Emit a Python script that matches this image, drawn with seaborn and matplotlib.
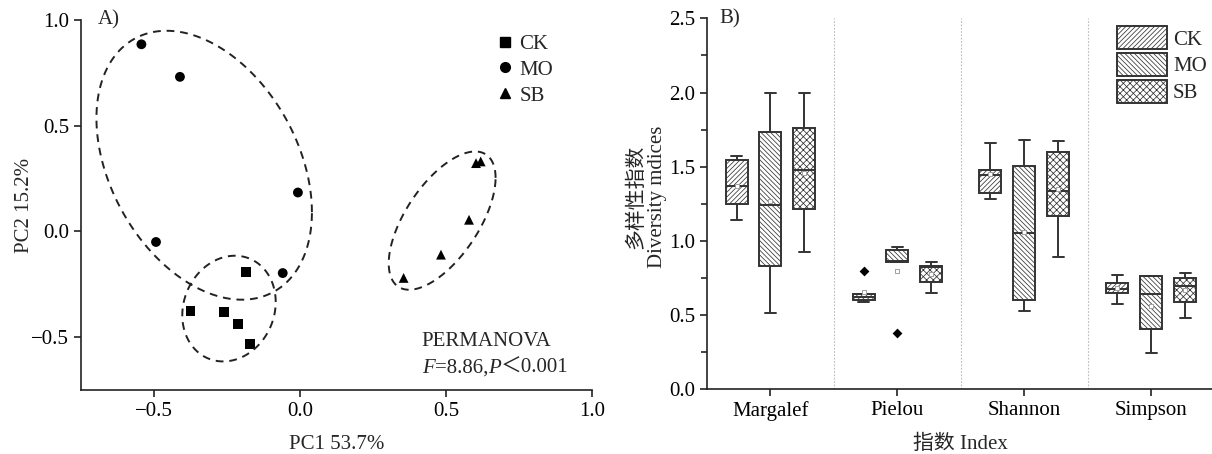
import numpy as np
import pandas as pd
import matplotlib
matplotlib.use("Agg")
import matplotlib.pyplot as plt
from matplotlib.patches import Patch
from matplotlib.lines import Line2D
from matplotlib.ticker import AutoMinorLocator
import seaborn as sns

groups = ['CK', 'MO', 'SB']

# A) PCoA scores
ck_pc1 = [-0.185, -0.375, -0.260, -0.213, -0.172]
ck_pc2 = [-0.192, -0.378, -0.381, -0.438, -0.532]
mo_pc1 = [-0.543, -0.411, -0.007, -0.493, -0.059]
mo_pc2 = [0.885, 0.731, 0.184, -0.050, -0.197]
sb_pc1 = [0.355, 0.483, 0.579, 0.603, 0.619]
sb_pc2 = [-0.220, -0.110, 0.055, 0.323, 0.331]

# group ellipses (centre, half extents in x / y, covariance term)
ell_cx = [-0.243, -0.328, 0.487]
ell_cy = [-0.365, 0.313, 0.051]
ell_rx = [0.160, 0.369, 0.183]
ell_ry = [0.250, 0.636, 0.327]
ell_sxy = [0.005, -0.082, 0.037]

# B) diversity indices: min, q1, median, q3, max per index
indices = ['Margalef', 'Pielou', 'Shannon', 'Simpson']
ck_box = [[1.139, 1.251, 1.370, 1.548, 1.575],
          [0.586, 0.602, 0.620, 0.645, 0.645],
          [1.283, 1.321, 1.447, 1.476, 1.662],
          [0.575, 0.649, 0.678, 0.719, 0.768]]
mo_box = [[0.514, 0.831, 1.242, 1.734, 2.000],
          [0.860, 0.860, 0.862, 0.937, 0.959],
          [0.526, 0.600, 1.056, 1.507, 1.678],
          [0.247, 0.409, 0.640, 0.764, 0.764]]
sb_box = [[0.923, 1.213, 1.476, 1.763, 2.000],
          [0.647, 0.725, 0.822, 0.831, 0.860],
          [0.894, 1.170, 1.339, 1.597, 1.671],
          [0.478, 0.586, 0.696, 0.748, 0.784]]
ck_mean = [1.37, 0.655, 1.45, 0.68]
mo_mean = [1.27, 0.80, 1.06, 0.56]
sb_mean = [1.46, 0.78, 1.35, 0.67]
out_index = ['Pielou', 'Pielou']
out_group = ['CK', 'MO']
out_value = [0.80, 0.382]

sns.set_style('ticks')
plt.rcParams['font.family'] = ['Liberation Serif', 'Noto Sans CJK SC']
plt.rcParams['font.size'] = 15
plt.rcParams['hatch.linewidth'] = 0.55
plt.rcParams['axes.linewidth'] = 1.2
plt.rcParams['xtick.major.width'] = 1.2
plt.rcParams['ytick.major.width'] = 1.2
plt.rcParams['ytick.minor.width'] = 1.2
plt.rcParams['xtick.major.size'] = 5
plt.rcParams['ytick.major.size'] = 5
plt.rcParams['ytick.minor.size'] = 4
dark = '#222222'

fig = plt.figure(figsize=(12.12, 4.54), dpi=100)
ax1 = fig.add_axes([0.0668, 0.141, 0.4216, 0.815])
ax2 = fig.add_axes([0.5833, 0.1425, 0.419, 0.817])

# ---- panel A
pca_df = pd.DataFrame({
    'PC1': ck_pc1 + mo_pc1 + sb_pc1,
    'PC2': ck_pc2 + mo_pc2 + sb_pc2,
    'group': ['CK'] * len(ck_pc1) + ['MO'] * len(mo_pc1) + ['SB'] * len(sb_pc1),
})
markers = {'CK': 's', 'MO': 'o', 'SB': '^'}
sns.scatterplot(data=pca_df, x='PC1', y='PC2', style='group', style_order=groups,
                markers=markers, color='black', s=50, linewidth=0, legend=False, ax=ax1)

t = np.linspace(0, 2 * np.pi, 300)
for cx, cy, rx, ry, sxy in zip(ell_cx, ell_cy, ell_rx, ell_ry, ell_sxy):
    L = np.linalg.cholesky(np.array([[rx ** 2, sxy], [sxy, ry ** 2]]))
    pts = L @ np.vstack([np.cos(t), np.sin(t)])
    ax1.plot(cx + pts[0], cy + pts[1], ls=(0, (4, 3)), color=dark, lw=1.4)

ax1.set_xlim(-0.75, 1.0)
ax1.set_ylim(-0.75, 1.0)
ax1.set_xticks([-0.5, 0.0, 0.5, 1.0])
ax1.set_yticks([-0.5, 0.0, 0.5, 1.0])
ax1.set_xlabel('PC1 53.7%', labelpad=10)
ax1.set_ylabel('PC2 15.2%')
ax1.yaxis.set_label_coords(-0.092, 0.5)
sns.despine(ax=ax1)
ax1.text(0.033, 1.0, 'A)', transform=ax1.transAxes, va='center', ha='left')

handles = [Line2D([], [], marker=markers[g], color='black', ls='', markersize=7) for g in groups]
ax1.legend(handles, groups, loc='upper left', bbox_to_anchor=(0.776, 1.012), frameon=False,
           handlelength=0.8, handletextpad=0.3, labelspacing=0.3)

# PERMANOVA note, pieces chained so F and P are italic
ax1.text(0.667, 0.132, 'PERMANOVA', transform=ax1.transAxes, va='center', ha='left')
prev = ax1.text(0.667, 0.059, 'F', transform=ax1.transAxes, va='center', ha='left', style='italic')
for piece, st in [('=8.86,', 'normal'), ('P', 'italic'), ('＜0.001', 'normal')]:
    prev = ax1.annotate(piece, xy=(1, 0), xycoords=prev, va='bottom', ha='left', style=st)

# ---- panel B
rows = []
for g, box in zip(groups, [ck_box, mo_box, sb_box]):
    for idx, vals in zip(indices, box):
        for v in vals:
            rows.append((idx, g, v))
box_df = pd.DataFrame(rows, columns=['index', 'group', 'value'])

hatches = {'CK': '///////', 'MO': '\\\\\\\\\\\\\\', 'SB': 'xxxxx'}
white = {g: 'white' for g in groups}
for g in groups:
    n0 = len(ax2.patches)
    sns.boxplot(data=box_df[box_df.group == g], x='index', y='value', hue='group',
                hue_order=groups, order=indices, palette=white, width=0.8, gap=0.35,
                dodge=True, whis=(0, 100), showfliers=False, linecolor='#333333',
                linewidth=1.4, legend=False, ax=ax2)
    for p in ax2.patches[n0:]:
        p.set_hatch(hatches[g])

mean_df = pd.DataFrame({
    'index': indices * 3,
    'group': ['CK'] * 4 + ['MO'] * 4 + ['SB'] * 4,
    'value': ck_mean + mo_mean + sb_mean,
})
sns.stripplot(data=mean_df, x='index', y='value', hue='group', hue_order=groups, order=indices,
              dodge=True, jitter=False, marker='s', size=3.5, palette=white, edgecolor='#a0a0a0',
              linewidth=0.7, legend=False, ax=ax2)
out_df = pd.DataFrame({'index': out_index, 'group': out_group, 'value': out_value})
sns.stripplot(data=out_df, x='index', y='value', hue='group', hue_order=groups, order=indices,
              dodge=True, jitter=False, marker='D', size=5, palette={g: 'black' for g in groups},
              linewidth=0, legend=False, ax=ax2)

for xs in [0.5, 1.5, 2.5]:
    ax2.axvline(xs, color='#bbbbbb', ls=(0, (1.5, 1.5)), lw=0.8, zorder=0)

ax2.set_xlim(-0.5, 3.5)
ax2.set_ylim(0, 2.5)
ax2.set_yticks([0.0, 0.5, 1.0, 1.5, 2.0, 2.5])
ax2.set_yticklabels(['0.0', '0.5', '1.0', '1.5', '2.0', '2.5'])
ax2.yaxis.set_minor_locator(AutoMinorLocator(2))
ax2.set_xlabel('指数 Index', labelpad=10)
ax2.set_ylabel('多样性指数\nDiversity mdices', linespacing=1.1)
ax2.yaxis.set_label_coords(-0.079, 0.52)
sns.despine(ax=ax2)
ax2.text(0.024, 1.0, 'B)', transform=ax2.transAxes, va='center', ha='left')

leg_handles = [Patch(facecolor='white', edgecolor='#333333', hatch=hatches[g], linewidth=1.4) for g in groups]
ax2.legend(leg_handles, groups, loc='upper left', bbox_to_anchor=(0.77, 1.03), frameon=False,
           handlelength=2.4, handleheight=1.35, labelspacing=0.15, handletextpad=0.3)

for ax in (ax1, ax2):
    ax.tick_params(colors=dark, labelcolor='black')
    for s in ax.spines.values():
        s.set_color(dark)

fig.savefig('out.png', dpi=100)
